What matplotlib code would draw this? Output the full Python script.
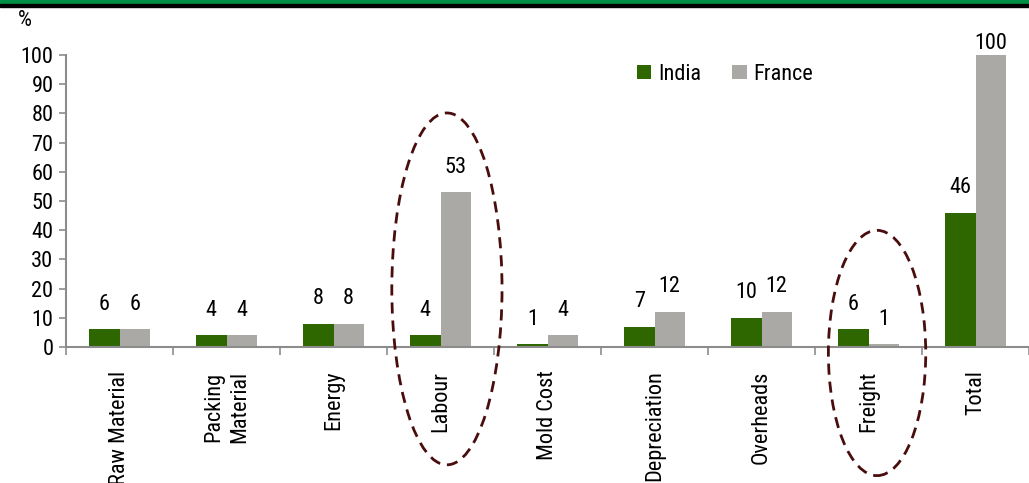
import matplotlib
matplotlib.use("Agg")
import matplotlib.pyplot as plt
from matplotlib.patches import Ellipse, Rectangle
from matplotlib import font_manager
import numpy as np

categories = ["Raw Material", "Packing\nMaterial", "Energy", "Labour", "Mold Cost",
              "Depreciation", "Overheads", "Freight", "Total"]
india = [6, 4, 8, 4, 1, 7, 10, 6, 46]
france = [6, 4, 8, 53, 4, 12, 12, 1, 100]
yticks = [0, 10, 20, 30, 40, 50, 60, 70, 80, 90, 100]

# pick a narrow sans font if one is installed
fam, stretch = "Liberation Sans", "normal"
ttf = font_manager.fontManager.ttflist
names = {f.name for f in ttf}
for cand in ("Liberation Sans Narrow", "Arial Narrow", "Roboto Condensed",
             "Open Sans Condensed", "Noto Sans Condensed", "DejaVu Sans Condensed"):
    if cand in names:
        fam = cand
        break
else:
    cond = [f for f in ttf if str(f.stretch) in ("condensed", "semi-condensed", "500", "600")
            and f.style == "normal" and f.weight in (400, "normal", "regular")]
    if cond:
        fam, stretch = cond[0].name, cond[0].stretch
plt.rcParams["font.family"] = [fam, "DejaVu Sans"]
plt.rcParams["font.stretch"] = stretch

GREEN = "#2E6600"
GREY = "#AAA9A5"
AX = "#8C8C8C"
FS = 16

fig = plt.figure(figsize=(10.29, 4.83), dpi=100)
# top banner
fig.patches.append(Rectangle((0, 1 - 4/483), 1, 4/483, transform=fig.transFigure,
                             color="#009045", zorder=0))
fig.patches.append(Rectangle((0, 1 - 7/483), 1, 3/483, transform=fig.transFigure,
                             color="black", zorder=0))

ax = fig.add_axes([66/1029, 136/483, 963/1029, 292/483])
x = np.arange(len(categories))
w = 0.285
b1 = ax.bar(x - w/2, india, w, color=GREEN, label="India", zorder=2)
b2 = ax.bar(x + w/2, france, w, color=GREY, label="France", zorder=2)

for bars, vals in ((b1, india), (b2, france)):
    for r, v in zip(bars, vals):
        off = 8 if v >= 95 else 18
        ax.annotate(f"{v}", (r.get_x() + r.get_width()/2, v), xytext=(0, off),
                    textcoords="offset points", ha="center", va="center",
                    fontsize=FS, color="black", zorder=3)

ax.set_xlim(-0.5, len(categories) - 0.5)
ax.set_ylim(0, 100)
ax.set_yticks(yticks)
ax.set_yticklabels([str(t) for t in yticks], fontsize=FS)
ax.set_xticks(x)
ax.set_xticklabels(categories, rotation=90, fontsize=FS, va="top", ha="center",
                   linespacing=1.3)
ax.tick_params(axis="x", length=0, pad=17)
ax.set_xticks(np.arange(-0.5, len(categories), 1), minor=True)
ax.tick_params(axis="x", which="minor", length=6, color=AX, width=1.2, direction="out")
ax.tick_params(axis="y", length=5, color=AX, width=1.2, pad=4)
for s in ("top", "right"):
    ax.spines[s].set_visible(False)
for s in ("left", "bottom"):
    ax.spines[s].set_color(AX)
    ax.spines[s].set_linewidth(1.5)

leg = ax.legend(loc="upper left", bbox_to_anchor=(562/963, 1.0), ncol=2, frameon=False,
                fontsize=FS, handlelength=0.65, handleheight=0.65, handletextpad=0.3,
                columnspacing=1.4, borderaxespad=0)

fig.text(18/1029, 1 - 21/483, "%", fontsize=FS, va="center", ha="left")

# highlight ellipses
for cx, cy, ew, eh in ((3.06, 19.9, 1.03, 120.5), (7.08, -2.05, 0.91, 84.0)):
    e = Ellipse((cx, cy), ew, eh, fill=False, edgecolor="#4A0D0D", linestyle=(0, (4, 2.5)),
                linewidth=2, clip_on=False, zorder=4)
    ax.add_patch(e)

fig.savefig("out.png", dpi=100)
